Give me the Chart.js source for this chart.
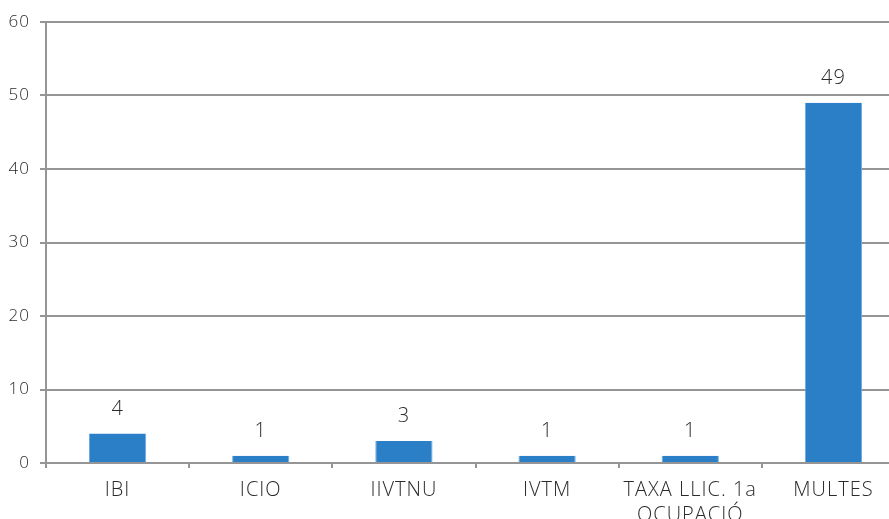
<!DOCTYPE html>
<html>
<head>
<meta charset="utf-8">
<script src="https://cdn.jsdelivr.net/npm/chart.js@4/dist/chart.umd.min.js"></script>
<style>
  html, body { margin: 0; padding: 0; background: #fff; }
  #wrap { width: 889px; height: 519px; overflow: hidden; }
</style>
</head>
<body>
<div id="wrap"><canvas id="chart" width="905" height="519"></canvas></div>
<script>
// dades del grafic
const categories = ['IBI', 'ICIO', 'IIVTNU', 'IVTM', ['TAXA LLIC. 1a', 'OCUPACIÓ'], 'MULTES'];
const valors = [4, 1, 3, 1, 1, 49];
const yTicks = [0, 10, 20, 30, 40, 50, 60];

const gridColor = '#959595';
const textColor = '#2b2b2b';
const fontX = { family: 'Open Sans', size: 20, weight: '300', lineHeight: 1.25 };
const fontY = { family: 'Open Sans', size: 17, weight: '300' };

// espaiat de lletres com a l'original
const spacing = {
    id: 'spacing',
    beforeDraw(chart) { chart.ctx.letterSpacing = '1px'; }
};

// etiquetes sobre les barres
const valueLabels = {
    id: 'valueLabels',
    afterDatasetsDraw(chart) {
        const ctx = chart.ctx;
        const meta = chart.getDatasetMeta(0);
        ctx.save();
        ctx.fillStyle = textColor;
        ctx.font = '300 20px "Open Sans"';
        ctx.textAlign = 'center';
        ctx.textBaseline = 'alphabetic';
        meta.data.forEach((bar, i) => {
            ctx.fillText(valors[i], bar.x, bar.y - 19);
        });
        ctx.restore();
    }
};

const canvas = document.getElementById('chart');

let chart = new Chart(canvas, {
    type: 'bar',
    data: {
        labels: categories,
        datasets: [{
            data: valors,
            backgroundColor: '#2a7fc6',
            borderColor: '#6aaade',
            borderWidth: { left: 1, right: 1, top: 0, bottom: 0 },
            categoryPercentage: 1,
            barPercentage: 0.4
        }]
    },
    options: {
        responsive: false,
        animation: false,
        layout: { padding: { top: 22, right: 0, left: 0, bottom: 0 } },
        plugins: {
            legend: { display: false },
            tooltip: { enabled: false }
        },
        scales: {
            x: {
                grid: {
                    offset: true,
                    drawOnChartArea: false,
                    drawTicks: true,
                    tickLength: 5,
                    color: gridColor,
                    lineWidth: 2
                },
                border: { color: gridColor, width: 2 },
                ticks: { color: textColor, font: fontX, padding: 10, maxRotation: 0, autoSkip: false },
                afterFit(scale) { scale.height = 56; }
            },
            y: {
                min: 0,
                max: 60,
                afterBuildTicks(scale) { scale.ticks = yTicks.map(v => ({ value: v })); },
                grid: {
                    color: gridColor,
                    lineWidth: 2,
                    tickLength: 6
                },
                border: { color: gridColor, width: 2 },
                ticks: { color: textColor, font: fontY, padding: 10 },
                afterFit(scale) { scale.width = 46; }
            }
        }
    },
    plugins: [spacing, valueLabels]
});
</script>
</body>
</html>
